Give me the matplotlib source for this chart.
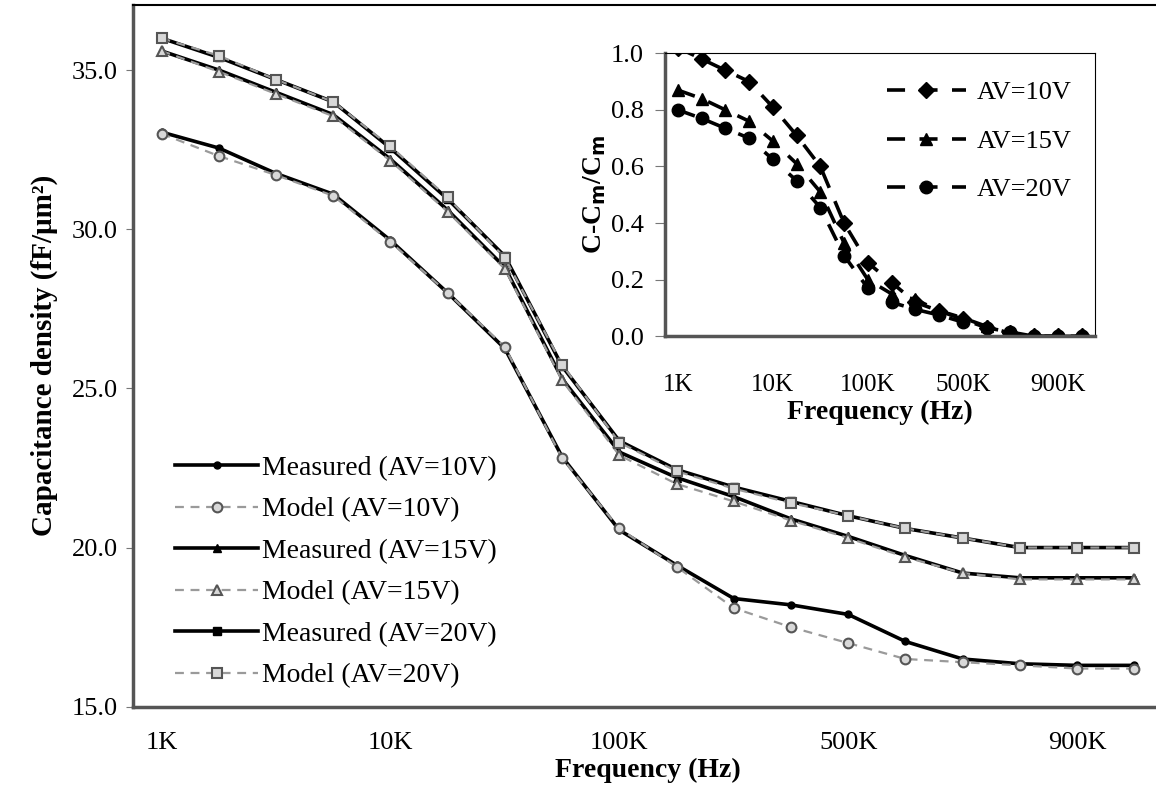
import matplotlib
matplotlib.use("Agg")
import matplotlib.pyplot as plt
import numpy as np

plt.rcParams['font.family'] = ['Liberation Serif', 'DejaVu Serif']

# frequency points (categorical, evenly spaced)
freqs = ['1K', '2K', '4K', '6K', '10K', '20K', '40K', '60K', '100K', '200K',
         '300K', '400K', '500K', '600K', '700K', '800K', '900K', '1M']
tick_idx = [0, 4, 8, 12, 16]
tick_labels = ['1K', '10K', '100K', '500K', '900K']

meas_10 = [33.05, 32.55, 31.75, 31.1, 29.65, 28.0, 26.25, 22.85, 20.55, 19.45,
           18.4, 18.2, 17.9, 17.05, 16.5, 16.35, 16.3, 16.3]
model_10 = [33.0, 32.3, 31.7, 31.05, 29.6, 28.0, 26.3, 22.8, 20.6, 19.4,
            18.1, 17.5, 17.0, 16.5, 16.4, 16.3, 16.2, 16.2]
meas_15 = [35.6, 35.0, 34.3, 33.6, 32.2, 30.6, 28.8, 25.3, 23.0, 22.2,
           21.6, 20.9, 20.35, 19.75, 19.2, 19.05, 19.05, 19.05]
model_15 = [35.6, 34.95, 34.25, 33.55, 32.15, 30.55, 28.75, 25.25, 22.9, 22.0,
            21.45, 20.85, 20.3, 19.7, 19.2, 19.0, 19.0, 19.0]
meas_20 = [36.0, 35.4, 34.7, 34.0, 32.55, 30.95, 29.15, 25.7, 23.35, 22.45,
           21.9, 21.45, 21.0, 20.6, 20.3, 20.0, 20.0, 20.0]
model_20 = [36.0, 35.45, 34.7, 34.0, 32.6, 31.0, 29.1, 25.75, 23.3, 22.4,
            21.85, 21.4, 21.0, 20.6, 20.3, 20.0, 20.0, 20.0]

# inset: (C - Cm) / Cm
inset_10 = [1.02, 0.98, 0.94, 0.90, 0.81, 0.71, 0.60, 0.40, 0.26, 0.19,
            0.12, 0.09, 0.06, 0.03, 0.01, 0.0, 0.0, 0.0]
inset_15 = [0.87, 0.84, 0.80, 0.76, 0.69, 0.61, 0.51, 0.33, 0.20, 0.15,
            0.13, 0.09, 0.065, 0.035, 0.01, 0.0, 0.0, 0.0]
inset_20 = [0.80, 0.77, 0.735, 0.70, 0.625, 0.55, 0.455, 0.285, 0.17, 0.12,
            0.095, 0.075, 0.05, 0.03, 0.015, 0.0, 0.0, 0.0]

x = np.arange(len(freqs))

fig = plt.figure(figsize=(11.56, 7.95), dpi=100)
ax = fig.add_axes([0.115, 0.111, 0.891, 0.883])

gray = '#9a9a9a'
mfc = '#d8d8d8'
series = [
    (meas_10, model_10, 'o', 'AV=10V', 5),
    (meas_15, model_15, '^', 'AV=15V', 6),
    (meas_20, model_20, 's', 'AV=20V', 6),
]
for meas, model, mk, lab, ms in series:
    ax.plot(x, meas, '-', color='black', lw=2.6, marker=mk, ms=ms,
            mfc='black', mec='black', label='Measured (%s)' % lab, zorder=3)
    ax.plot(x, model, '--', color=gray, lw=1.6, marker=mk, ms=7,
            mfc=mfc, mec='#555555', mew=1.5, label='Model (%s)' % lab,
            dashes=(4, 3), zorder=4)

ax.set_xlim(-0.5, 17.5)
ax.set_ylim(15, 37.05)
ax.set_yticks([15, 20, 25, 30, 35])
ax.set_yticklabels(['%.1f' % v for v in [15, 20, 25, 30, 35]], fontsize=19)
ax.set_xticks(tick_idx)
ax.set_xticklabels(tick_labels, fontsize=19)
ax.tick_params(axis='x', length=0, pad=18)
ax.tick_params(axis='y', length=5, color='#777777', pad=6)
ax.set_xlabel('Frequency (Hz)', fontsize=20, fontweight='bold', labelpad=3)
ax.set_ylabel('Capacitance density (fF/μm²)', fontsize=21, fontweight='bold',
              labelpad=10)
for s in ['left', 'bottom']:
    ax.spines[s].set_color('#555555')
    ax.spines[s].set_linewidth(2.5)
ax.spines['top'].set_linewidth(1.5)

ax.legend(loc='lower left', bbox_to_anchor=(0.03, 0.01), frameon=False,
          fontsize=20, handlelength=3.0, handletextpad=0.15,
          labelspacing=0.58, borderaxespad=0.0)

# inset
ins = fig.add_axes([0.575, 0.577, 0.372, 0.356])
inset_series = [(inset_10, 'D', 'AV=10V', 8), (inset_15, '^', 'AV=15V', 9),
                (inset_20, 'o', 'AV=20V', 9)]
for vals, mk, lab, ms in inset_series:
    ins.plot(x, vals, color='black', lw=2.6, dashes=(5, 4), marker=mk, ms=ms,
             mfc='black', mec='black', label=lab)
ins.set_xlim(-0.55, 17.55)
ins.set_ylim(0, 1.0)
ins.set_yticks(np.arange(0, 1.01, 0.2))
ins.set_yticklabels(['%.1f' % v for v in np.arange(0, 1.01, 0.2)], fontsize=19)
ins.set_xticks(tick_idx)
ins.set_xticklabels(tick_labels, fontsize=18)
ins.tick_params(axis='x', length=0, pad=27)
ins.tick_params(axis='y', length=7, color='#777777', pad=8)
ins.set_xlabel('Frequency (Hz)', fontsize=20, fontweight='bold', labelpad=3)
ins.set_ylabel('C-C$_\\mathbf{m}$/C$_\\mathbf{m}$', fontsize=20,
               fontweight='bold', labelpad=2)
for s in ['left', 'bottom']:
    ins.spines[s].set_color('#555555')
    ins.spines[s].set_linewidth(2.5)
ins.legend(loc='upper right', bbox_to_anchor=(0.97, 0.94), frameon=False,
           fontsize=19, handlelength=3.0, handletextpad=0.4,
           labelspacing=0.95, borderaxespad=0.0)

fig.savefig('out.png', dpi=100)
